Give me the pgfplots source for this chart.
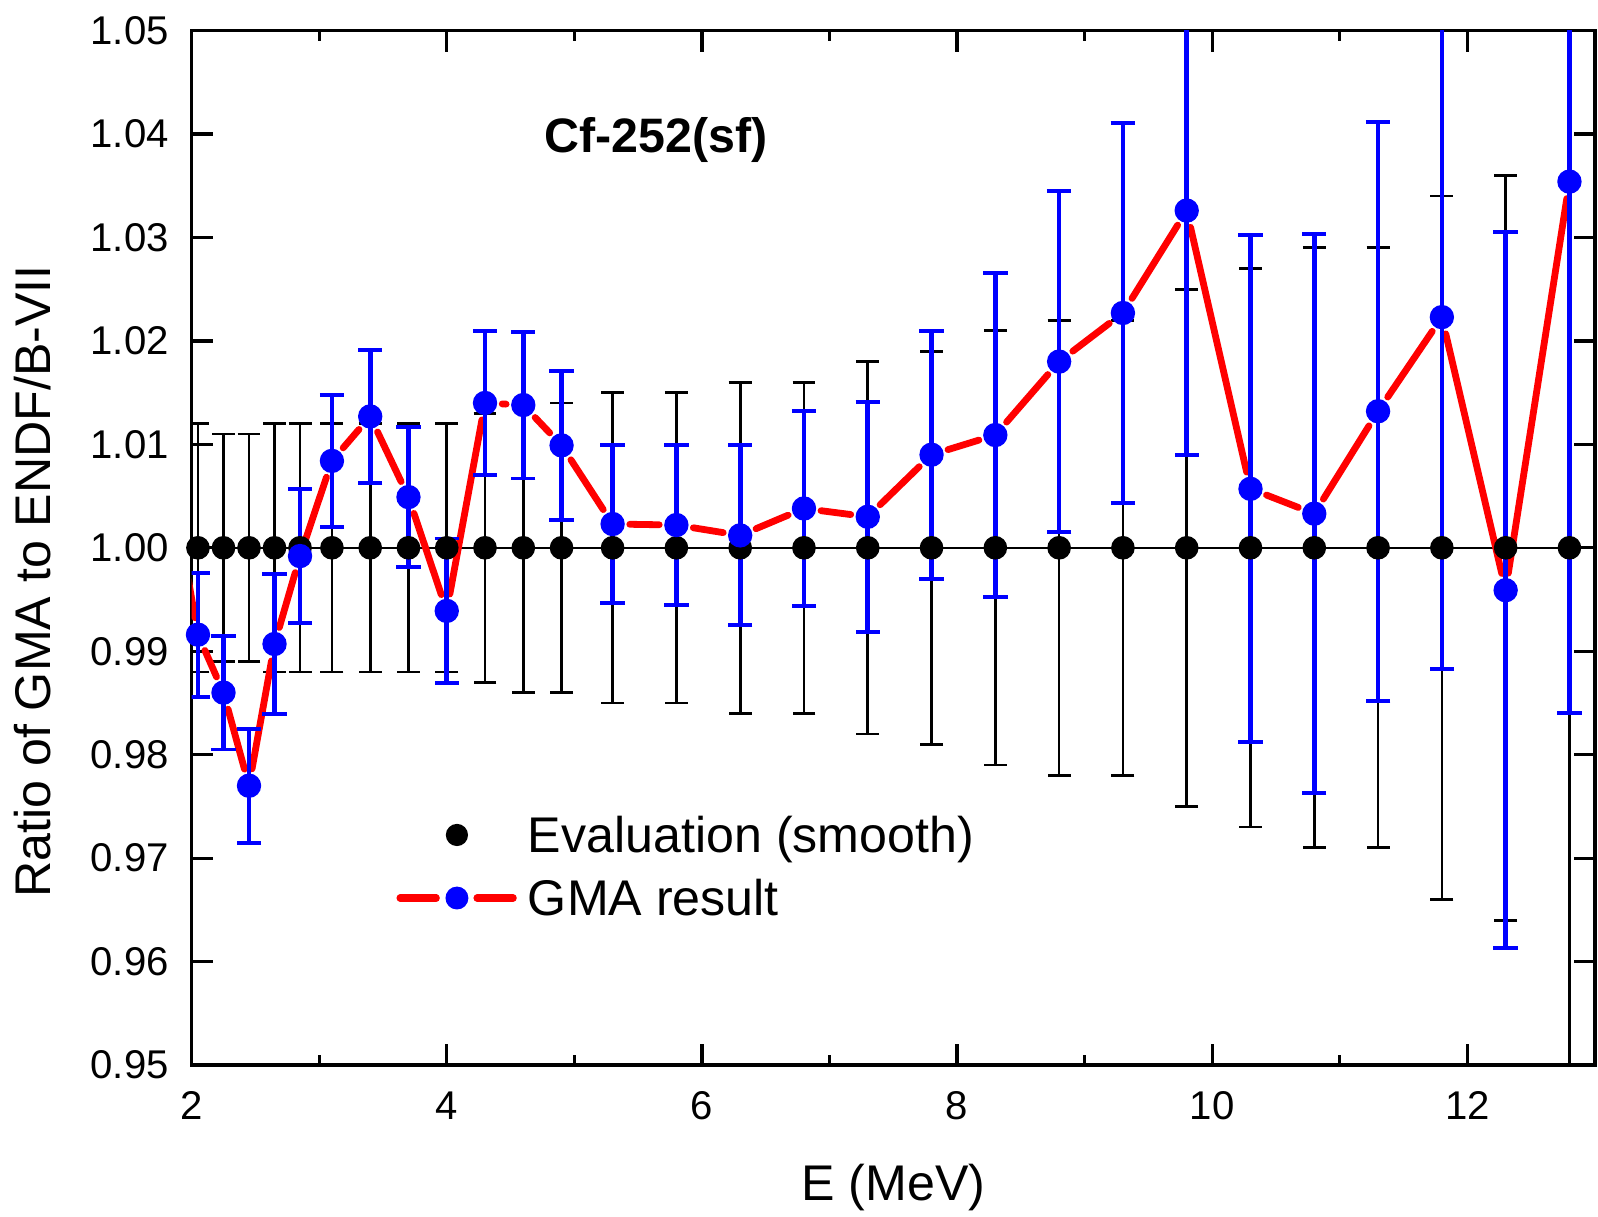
\documentclass[border=0pt]{standalone}
\usepackage{fontspec}
\setmainfont{Liberation Sans}
\usepackage{pgfplots}
\usepackage{pgfplotstable}
\pgfplotsset{compat=1.18}
\pgfplotsset{
  seg/.style={/pgfplots/x filter/.append code={%
      \ifnum\coordindex<#1\relax\def\pgfmathresult{}\else
        \ifnum\coordindex>\numexpr#1+1\relax\def\pgfmathresult{}\fi\fi}},
  skipfirst/.style={/pgfplots/x filter/.append code={%
      \ifnum\coordindex<1\relax\def\pgfmathresult{}\fi}},
}

\pgfplotstableread{
E G Gerr B Berr
1.85 1.0057 0 1 0
2.05 0.9916 0.0060 1 0.012
2.25 0.9860 0.0055 1 0.011
2.45 0.9770 0.0055 1 0.011
2.65 0.9907 0.0068 1 0.012
2.85 0.9992 0.0065 1 0.012
3.10 1.0084 0.0064 1 0.012
3.40 1.0127 0.0064 1 0.012
3.70 1.0049 0.0068 1 0.012
4.00 0.9939 0.0070 1 0.012
4.30 1.0140 0.0070 1 0.013
4.60 1.0138 0.0071 1 0.014
4.90 1.0099 0.0072 1 0.014
5.30 1.0023 0.0076 1 0.015
5.80 1.0022 0.0077 1 0.015
6.30 1.0012 0.0087 1 0.016
6.80 1.0038 0.0094 1 0.016
7.30 1.0030 0.0111 1 0.018
7.80 1.0090 0.0120 1 0.019
8.30 1.0109 0.0157 1 0.021
8.80 1.0180 0.0165 1 0.022
9.30 1.0227 0.0184 1 0.022
9.80 1.0326 0.0236 1 0.025
10.30 1.0057 0.0245 1 0.027
10.80 1.0033 0.0270 1 0.029
11.30 1.0132 0.0280 1 0.029
11.80 1.0223 0.0340 1 0.034
12.30 0.9959 0.0346 1 0.036
12.80 1.0354 0.0514 1 0.060
}\gma

\begin{document}
\begin{tikzpicture}
\begin{axis}[
  name=ax,
  scale only axis,
  width=13.77cm, height=10.15cm,
  xmin=2, xmax=13, ymin=0.95, ymax=1.05,
  xtick={2,4,6,8,10,12},
  minor xtick={3,5,7,9,11},
  ytick={0.95,0.96,0.97,0.98,0.99,1.00,1.01,1.02,1.03,1.04,1.05},
  scaled y ticks=false,
  yticklabel style={/pgf/number format/fixed, /pgf/number format/fixed zerofill,
     /pgf/number format/precision=2, xshift=-0.1cm},
  /pgf/number format/assume math mode=true,
  tick align=inside,
  tick pos=both,
  ticklabel pos=left,
  major tick length=0.21cm,
  minor tick length=0.10cm,
  tick style={black, line width=0.9pt},
  axis line style={line width=1pt},
  tick label style={font=\fontsize{11.2}{13}\selectfont},
  xticklabel style={yshift=-0.14cm},
  label style={font=\fontsize{14}{17}\selectfont},
  xlabel={E (MeV)},
  ylabel={Ratio of GMA to ENDF/B-VII},
  xlabel style={at={(axis description cs:0.5,-0.131)}, anchor=base},
  ylabel style={at={(axis description cs:-0.1002,0.4675)}, anchor=base},
  legend cell align=left,
  legend style={draw=none, fill=none, inner sep=0pt,
    at={(axis description cs:0.1455,0.2473)}, anchor=north west,
    font=\fontsize{14}{17}\selectfont,
    column sep=0.11cm, row sep=3.6pt,
    nodes={inner sep=0pt, text height=12pt, text depth=2pt}},
]
% reference line at 1
\addplot[black, line width=0.5pt, forget plot] coordinates {(1.5,1) (13.5,1)};

% evaluation (smooth)
\addplot[black, only marks, mark=*, mark size=3.1pt, skipfirst,
  legend image code/.code={\path[draw=none, fill=none] (0cm,0cm) rectangle (1.18cm,0cm);
     \fill[black, draw=none] (0.593cm,0cm) circle (3.1pt);},
  error bars/.cd, y dir=both, y explicit,
  error bar style={line width=0.75pt, black},
  error mark options={rotate=90, mark size=3.2pt, line width=0.75pt, black}]
  table[x=E, y=B, y error=Berr] {\gma};
\addlegendentry{Evaluation (smooth)}

% GMA red line, segment by segment with gaps at the markers
\pgfplotsinvokeforeach{0,...,27}{
  \addplot[red, line width=1.9pt, line cap=round, no markers, forget plot,
    shorten <=4.8pt, shorten >=4.8pt, seg=#1]
    table[x=E, y=G] {\gma};
}

% GMA points with error bars
\addplot[blue, only marks, mark=*, mark size=3.2pt, mark options={draw=blue, fill=blue}, skipfirst,
  legend image code/.code={\path[draw=none, fill=none] (0cm,0cm) rectangle (1.18cm,0cm);
     \draw[red, line width=2pt, line cap=round] (0.035cm,0cm) -- (0.39cm,0cm);
     \draw[red, line width=2pt, line cap=round] (0.79cm,0cm) -- (1.145cm,0cm);
     \fill[blue, draw=none] (0.593cm,0cm) circle (3.2pt);},
  error bars/.cd, y dir=both, y explicit,
  error bar style={line width=1.3pt, blue},
  error mark options={rotate=90, mark size=3.4pt, line width=1.1pt, blue}]
  table[x=E, y=G, y error=Gerr] {\gma};
\addlegendentry{GMA result}

\node[font=\bfseries\fontsize{13.5}{16}\selectfont] at (axis description cs:0.331,0.894) {Cf-252(sf)};
\end{axis}
\pgfresetboundingbox
\path ([xshift=-1.88cm,yshift=-1.49cm]ax.south west) rectangle ([xshift=0.03cm,yshift=0.30cm]ax.north east);
\end{tikzpicture}
\end{document}
